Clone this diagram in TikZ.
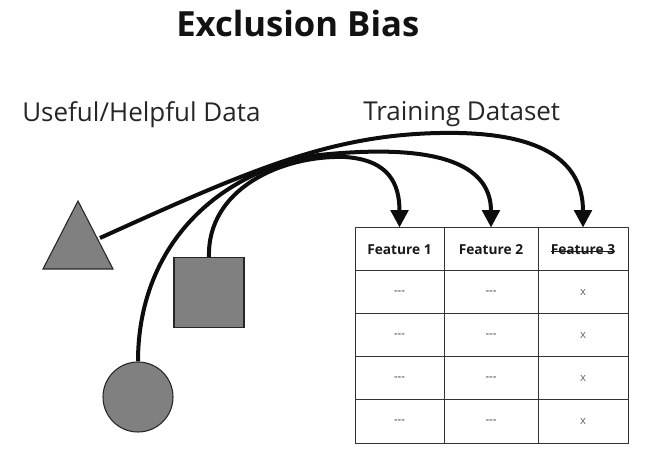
\documentclass[tikz,border=0pt]{standalone}
\usepackage{fontspec}
\setmainfont{Open Sans}
\usetikzlibrary{positioning,arrows.meta}
\newcommand\struck[1]{\setbox0\hbox{#1}\rlap{\rule[0.3ex]{\wd0}{0.5pt}}\box0}

\begin{document}
\begin{tikzpicture}[
    x=0.75pt, y=-0.75pt,
    blob/.style={draw=black!85, fill=black!50, line width=0.8pt},
    cell/.style={draw=black!80, line width=0.75pt,
                 minimum height=32.25pt, inner sep=0pt,
                 font=\fontsize{8.5}{10}\selectfont, text=black!80},
    head/.style={cell, font=\fontsize{10.3}{12}\selectfont\bfseries, text=black!90},
    label/.style={inner sep=0pt, anchor=base west, text=black!85,
                  font=\fontsize{19.5}{22}\selectfont},
    link/.style={line width=3pt, black!95, -{Triangle[length=13pt,width=13pt]}}
]
\useasboundingbox (0,0) rectangle (646,459);

% titles
\node[inner sep=0pt, anchor=base west, font=\fontsize{26}{30}\selectfont\bfseries,
      text=black!93] (title) at (176,37) {Exclusion Bias};
\node[label] (useful) at (22,122) {Useful/Helpful Data};
\node[label] (train) at (363,121) {Training Dataset};

% shapes
\draw[blob] (43,269) -- (78,201) -- (113,269) -- cycle;
\coordinate (tri) at (100,238);
\node[blob, minimum size=52.5pt, inner sep=0pt] (sq) at (209,292.5) {};
\node[blob, circle, minimum size=52.5pt, inner sep=0pt] (circ) at (138,397) {};

% table
\node[head, minimum width=66.75pt] (h1) at (399.5,249.5) {Feature 1};
\node[head, minimum width=70.5pt] (h2) at (491,249.5) {Feature 2};
\node[head, minimum width=67.5pt] (h3) at (583,249.5) {\struck{Feature 3}};
\foreach \r [count=\i] in {292.5,335.5,378.5,421.5} {
    \node[cell, minimum width=66.75pt] (a\i) at (399.5,\r) {-{}-{}-};
    \node[cell, minimum width=70.5pt] (b\i) at (491,\r) {-{}-{}-};
    \node[cell, minimum width=67.5pt, text=black!60] (c\i) at (583,\r) {x};
}

% links
\draw[link] (tri) .. controls (250,170) and (330,135) .. (440,133)
    .. controls (540,131) and (583,160) .. (h3.north);
\draw[link] (circ.north) .. controls (138,260) and (200,180) .. (310,156)
    .. controls (450,140) and (491,170) .. (h2.north);
\draw[link] (sq.north) .. controls (207,190) and (280,155) .. (345,157)
    .. controls (390,160) and (399.5,185) .. (h1.north);
\end{tikzpicture}
\end{document}
